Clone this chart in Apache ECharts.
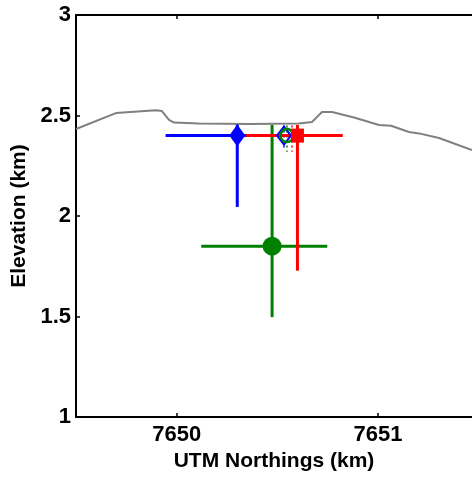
<!DOCTYPE html>
<html>
<head>
<meta charset="utf-8">
<script src="https://cdn.jsdelivr.net/npm/echarts@6/dist/echarts.min.js"></script>
<style>
  html, body { margin: 0; padding: 0; background: #fff; }
  #chart { width: 472px; height: 477px; }
</style>
</head>
<body>
<div id="chart"></div>
<script>
// Ground surface profile along the transect (UTM northing km, elevation km)
const terrainX = [7649.50, 7649.698, 7649.897, 7649.927, 7649.962, 7649.987, 7650.111, 7650.36, 7650.607, 7650.672, 7650.722, 7650.772, 7650.881, 7651.005, 7651.065, 7651.154, 7651.204, 7651.303, 7651.467];
const terrainY = [2.433, 2.512, 2.526, 2.522, 2.478, 2.465, 2.460, 2.458, 2.460, 2.468, 2.517, 2.517, 2.490, 2.453, 2.449, 2.418, 2.411, 2.388, 2.328];

// Source location estimates: [northing, elevation, northing low, northing high, elev low, elev high]
const blueEstimate  = [7650.301, 2.40, 7649.945, 7650.660, 2.045, 2.455];
const greenEstimate = [7650.474, 1.85, 7650.122, 7650.748, 1.497, 2.453];
const redEstimate   = [7650.600, 2.40, 7650.345, 7650.825, 1.728, 2.453];

// Secondary (open-marker) estimates with small dashed elevation bars: [northing, elevation, elev low, elev high]
const blueOpen  = [7650.533, 2.40, 2.33, 2.45];
const greenOpen = [7650.548, 2.40, 2.32, 2.45];
const redOpen   = [7650.573, 2.40, 2.32, 2.45];

// Axis ticks and visible range
const xTicks = [7650, 7651];
const xMin = 7649.5, xMax = 7651.467;
const yMin = 1, yMax = 3, yStep = 0.5;

const FONT = 'Liberation Sans';

function errorBarSeries(item, color, z) {
  return {
    type: 'custom',
    z: z,
    silent: true,
    data: [item],
    encode: { x: [0, 2, 3], y: [1, 4, 5] },
    renderItem: function (params, api) {
      const c = api.coord([api.value(0), api.value(1)]);
      const l = api.coord([api.value(2), api.value(1)]);
      const r = api.coord([api.value(3), api.value(1)]);
      const b = api.coord([api.value(0), api.value(4)]);
      const t = api.coord([api.value(0), api.value(5)]);
      const style = { stroke: color, lineWidth: 3, fill: null };
      return {
        type: 'group',
        children: [
          { type: 'line', shape: { x1: l[0], y1: c[1], x2: r[0], y2: c[1] }, style: style },
          { type: 'line', shape: { x1: c[0], y1: t[1], x2: c[0], y2: b[1] }, style: style }
        ]
      };
    }
  };
}

function dashedBarSeries(item, color, z) {
  return {
    type: 'custom',
    z: z,
    silent: true,
    data: [item],
    encode: { x: 0, y: [1, 2, 3] },
    renderItem: function (params, api) {
      const b = api.coord([api.value(0), api.value(2)]);
      const t = api.coord([api.value(0), api.value(3)]);
      return {
        type: 'line',
        shape: { x1: b[0], y1: t[1], x2: b[0], y2: b[1] },
        style: { stroke: color, lineWidth: 1.5, lineDash: [2, 3], fill: null }
      };
    }
  };
}

const chart = echarts.init(document.getElementById('chart'), null, { renderer: 'canvas' });

chart.setOption({
  animation: false,
  backgroundColor: '#ffffff',
  grid: { left: 76, right: 0, top: 15, bottom: 60, containLabel: false },
  xAxis: [
    {
      type: 'value', position: 'bottom', min: xMin, max: xMax,
      name: 'UTM Northings (km)', nameLocation: 'middle', nameGap: 29,
      nameTextStyle: { fontFamily: FONT, fontWeight: 'bold', fontSize: 21, color: '#000' },
      axisLine: { show: true, onZero: false, lineStyle: { color: '#000', width: 2 } },
      axisTick: { show: true, inside: true, length: 4, customValues: xTicks, lineStyle: { color: '#000', width: 1.5 } },
      axisLabel: { show: true, customValues: xTicks, margin: 7, fontFamily: FONT, fontWeight: 'bold', fontSize: 22, color: '#000',
                   formatter: v => String(Math.round(v)) },
      splitLine: { show: false }
    },
    {
      type: 'value', position: 'top', min: xMin, max: xMax,
      axisLine: { show: true, onZero: false, lineStyle: { color: '#000', width: 2 } },
      axisTick: { show: true, inside: true, length: 4, customValues: xTicks, lineStyle: { color: '#000', width: 1.5 } },
      axisLabel: { show: false },
      splitLine: { show: false }
    }
  ],
  yAxis: {
    type: 'value', min: yMin, max: yMax, interval: yStep,
    name: 'Elevation (km)', nameLocation: 'middle', nameGap: 35,
    nameTextStyle: { fontFamily: FONT, fontWeight: 'bold', fontSize: 21, color: '#000' },
    axisLine: { show: true, onZero: false, lineStyle: { color: '#000', width: 2 } },
    axisTick: { show: true, inside: true, length: 4, lineStyle: { color: '#000', width: 1.5 } },
    axisLabel: { margin: 5, fontFamily: FONT, fontWeight: 'bold', fontSize: 22, color: '#000' },
    splitLine: { show: false }
  },
  series: [
    {
      type: 'line', z: 1, silent: true, symbol: 'none',
      data: terrainX.map((x, i) => [x, terrainY[i]]),
      lineStyle: { color: '#808080', width: 2 }
    },
    errorBarSeries(blueEstimate, '#0000ff', 2),
    dashedBarSeries(blueOpen, '#0000ff', 2),
    errorBarSeries(greenEstimate, '#008000', 3),
    dashedBarSeries(greenOpen, '#008000', 3),
    errorBarSeries(redEstimate, '#ff0000', 4),
    dashedBarSeries(redOpen, '#ff0000', 4),
    {
      type: 'scatter', z: 5, silent: true, symbol: 'diamond', symbolSize: [16, 22],
      data: [[blueEstimate[0], blueEstimate[1]]],
      itemStyle: { color: '#0000ff', opacity: 1 }
    },
    {
      type: 'scatter', z: 5, silent: true, symbol: 'diamond', symbolSize: [14, 18],
      data: [[blueOpen[0], blueOpen[1]]],
      itemStyle: { color: 'rgba(0,0,0,0)', borderColor: '#0000ff', borderWidth: 2, opacity: 1 }
    },
    {
      type: 'scatter', z: 6, silent: true, symbol: 'circle', symbolSize: 19,
      data: [[greenEstimate[0], greenEstimate[1]]],
      itemStyle: { color: '#008000', opacity: 1 }
    },
    {
      type: 'scatter', z: 6, silent: true, symbol: 'circle', symbolSize: 13,
      data: [[greenOpen[0], greenOpen[1]]],
      itemStyle: { color: 'rgba(0,0,0,0)', borderColor: '#008000', borderWidth: 2.5, opacity: 1 }
    },
    {
      type: 'scatter', z: 7, silent: true, symbol: 'rect', symbolSize: [13, 14],
      data: [[redEstimate[0], redEstimate[1]]],
      itemStyle: { color: '#ff0000', opacity: 1 }
    }
  ]
});
</script>
</body>
</html>
